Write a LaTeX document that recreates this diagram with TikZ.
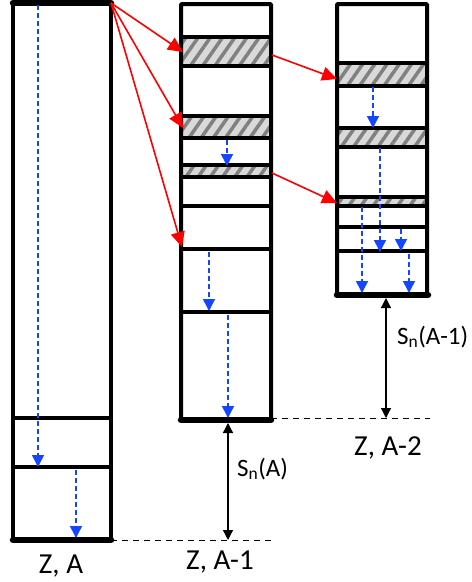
\documentclass[tikz,border=0pt]{standalone}
\usepackage{fontspec}
\setmainfont{Carlito}
\usetikzlibrary{arrows.meta,patterns.meta}
\definecolor{decayblue}{RGB}{20,70,255}
\tikzset{
  wall/.style={line width=4pt},
  floor/.style={line width=6.5pt, line cap=round},
  level/.style={line width=3.5pt},
  band/.style={fill=gray!30, postaction={pattern={Lines[angle=55,distance=10pt,line width=3.5pt]}, pattern color=black!50}},
  feed/.style={red, line width=1.6pt, -{Triangle[length=15pt,width=14pt]}},
  decay/.style={decayblue, dashed, dash pattern=on 5pt off 3pt, line width=1.6pt, -{Triangle[length=12pt,width=12pt]}},
  gap/.style={line width=1.3pt, {Triangle[length=10pt,width=10pt]}-{Triangle[length=10pt,width=10pt]}},
  ground/.style={line width=1pt, dash pattern=on 6pt off 5pt},
  zlabel/.style={font=\fontsize{29}{32}\selectfont, anchor=base},
  snlabel/.style={font=\fontsize{25}{30}\selectfont, anchor=base west, inner sep=0pt}
}
\begin{document}
\begin{tikzpicture}[x=1pt,y=-1pt]
        \useasboundingbox (0,0) rectangle (472,582);

        % Z, A
        \draw[wall] (13,3) rectangle (111,540);
        \draw[floor] (13,3) -- (111,3);
        \draw[floor] (13,540) -- (111,540);
        \draw[level] (13,418) -- (111,418);
        \draw[level] (13,467) -- (111,467);
        \node[zlabel] (za) at (61,573) {Z, A};

        % Z, A-1
        \fill[band] (181,37) rectangle (271,66);
        \fill[band] (181,116) rectangle (271,138);
        \fill[band] (181,165) rectangle (271,177);
        \draw[wall, rounded corners=1pt] (181,4) rectangle (271,420);
        \foreach \y in {37,66,116,138,165,177,206,249,312}
          \draw[level] (181,\y) -- (273,\y);
        \draw[floor] (181,420) -- (271,420);
        \node[zlabel] (za1) at (220,569) {Z, A-1};

        % Z, A-2
        \fill[band] (337,63) rectangle (427,86);
        \fill[band] (337,128) rectangle (427,147);
        \fill[band] (337,197) rectangle (427,206);
        \draw[wall, rounded corners=1pt] (337,4) rectangle (427,295);
        \foreach \y in {63,86,128,147,197,206,227,251}
          \draw[level] (337,\y) -- (429,\y);
        \draw[floor] (337,295) -- (428,295);
        \node[zlabel] (za2) at (388,455) {Z, A-2};

        % feeding
        \coordinate (src) at (111,3);
        \draw[feed] (src) -- (183,52);
        \draw[feed] (src) -- (183,128);
        \draw[feed] (src) -- (182,247);
        \draw[feed] (272,55) -- (337,79);
        \draw[feed] (272,173) -- (337,203);

        % decays
        \draw[decay] (38,5) -- (38,467);
        \draw[decay] (76,470) -- (76,538);
        \draw[decay] (227,140) -- (227,166);
        \draw[decay] (209,252) -- (209,311);
        \draw[decay] (228,315) -- (228,418);
        \draw[decay] (373,87) -- (373,128);
        \draw[decay] (380,148) -- (380,252);
        \draw[decay] (362,207) -- (362,293);
        \draw[decay] (401,229) -- (401,251);
        \draw[decay] (409,254) -- (409,293);

        % separation energies
        \draw[ground] (111,540) -- (273,540);
        \draw[ground] (271,418) -- (430,418);
        \coordinate (fa) at (228,540);
        \coordinate (fa1) at (386,418);
        \draw[gap] (228,423) -- (fa);
        \draw[gap] (386,298) -- (fa1);
        \node[snlabel] (sna) at (237,476) {S\textsubscript{n}(A)};
        \node[snlabel] (sna1) at (397,344) {S\textsubscript{n}(A-1)};
      \end{tikzpicture}
\end{document}
